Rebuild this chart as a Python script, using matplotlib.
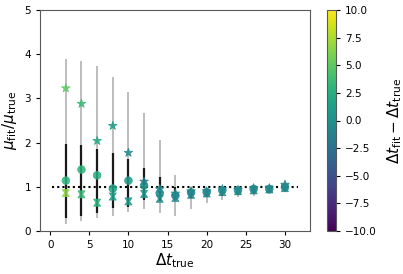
import numpy as np
import matplotlib
matplotlib.use("Agg")
import matplotlib.pyplot as plt
from matplotlib.path import Path

# data
dt_true = [2, 4, 6, 8, 10, 12, 14, 16, 18, 20, 22, 24, 26, 28, 30]

ratio_star = [3.23, 2.88, 2.04, 2.38, 1.77, 1.12, 0.95, 0.85, 0.90, 0.90, 0.95, 0.93, 0.97, 0.97, 1.05]
ratio_circ = [1.14, 1.39, 1.26, 0.96, 1.14, 1.03, 0.86, 0.80, 0.87, 0.88, 0.92, 0.92, 0.95, 0.95, 0.99]
ratio_hour = [0.86, 0.83, 0.64, 0.78, 0.67, 0.84, 0.73, 0.75, 0.82, 0.85, 0.88, 0.90, 0.92, 0.94, 0.97]

outer_hi = [3.90, 3.84, 3.73, 3.48, 3.15, 2.67, 2.05, 1.27, 1.00, 0.95, 0.98, 0.98, 1.00, 1.00, 1.12]
outer_lo = [0.16, 0.23, 0.29, 0.34, 0.42, 0.49, 0.40, 0.34, 0.50, 0.63, 0.70, 0.76, 0.80, 0.84, 0.89]
inner_hi = [1.97, 1.94, 1.85, 1.77, 1.64, 1.42, 1.22, 1.00, 0.97, 0.93, 0.96, 0.96, 0.98, 0.98, 1.08]
inner_lo = [0.30, 0.35, 0.40, 0.52, 0.55, 0.70, 0.67, 0.72, 0.75, 0.78, 0.80, 0.82, 0.84, 0.86, 0.90]

dt_diff_star = [5.0, 3.5, 2.0, 1.0, -0.5, -1.5, -0.5, -0.5, -0.5, -0.5, -0.5, -0.5, -0.5, -0.5, -0.5]
dt_diff_circ = [3.0, 3.0, 2.5, 1.5, 1.0, 0.5, -0.5, -1.0, -1.0, -1.0, -0.5, -0.5, -0.5, -0.5, -0.5]
dt_diff_hour = [6.5, 3.5, 3.0, 1.5, 1.0, 0.5, 0.0, -0.5, -0.5, -0.5, -0.5, -0.5, -0.5, -0.5, -0.5]

# hourglass-like marker
hourglass = Path([(-1, 1), (1, 1), (0.35, 0), (1, -1), (-1, -1), (-0.35, 0), (-1, 1)],
                 [Path.MOVETO] + [Path.LINETO] * 5 + [Path.CLOSEPOLY])

fig = plt.figure(figsize=(4.03, 2.74), dpi=100)
ax = fig.add_axes([40 / 403, 43 / 274, 270 / 403, 221 / 274])
cax = fig.add_axes([327 / 403, 43 / 274, 9 / 403, 221 / 274])

ax.vlines(dt_true, outer_lo, outer_hi, color="0.72", lw=1.3, zorder=1)
ax.vlines(dt_true, inner_lo, inner_hi, color="0.1", lw=1.6, zorder=2)
ax.hlines(1, 0.25, 31.7, color="k", ls=(0, (1, 1.5)), lw=1.5, zorder=3)

kw = dict(cmap="viridis", vmin=-10, vmax=10, zorder=4, linewidths=0.6, edgecolors="face")
ax.scatter(dt_true, ratio_hour, c=dt_diff_hour, marker=hourglass, s=26, alpha=0.85, **kw)
ax.scatter(dt_true, ratio_circ, c=dt_diff_circ, marker="o", s=30, alpha=0.85, **kw)
sc = ax.scatter(dt_true, ratio_star, c=dt_diff_star, marker="*", s=42, alpha=0.85, **kw)

ax.set_xlim(-1.3, 33.2)
ax.set_ylim(0, 5)
ax.set_xticks([0, 5, 10, 15, 20, 25, 30])
ax.set_yticks([0, 1, 2, 3, 4, 5])
ax.tick_params(labelsize=7.5, length=3)
ax.set_xlabel(r"$\Delta t_{\rm true}$", fontsize=11, labelpad=1)
ax.set_ylabel(r"$\mu_{\rm fit}/\mu_{\rm true}$", fontsize=11, labelpad=4)
for s in ax.spines.values():
    s.set_color("0.35")

cb = fig.colorbar(sc, cax=cax)
cb.solids.set_alpha(1)
cb.set_ticks([-10, -7.5, -5, -2.5, 0, 2.5, 5, 7.5, 10])
cb.ax.tick_params(labelsize=7.5, length=3)
cb.set_label(r"$\Delta t_{\rm fit} - \Delta t_{\rm true}$", fontsize=11, labelpad=6)
cb.outline.set_edgecolor("0.35")

fig.savefig("out.png", dpi=100)
